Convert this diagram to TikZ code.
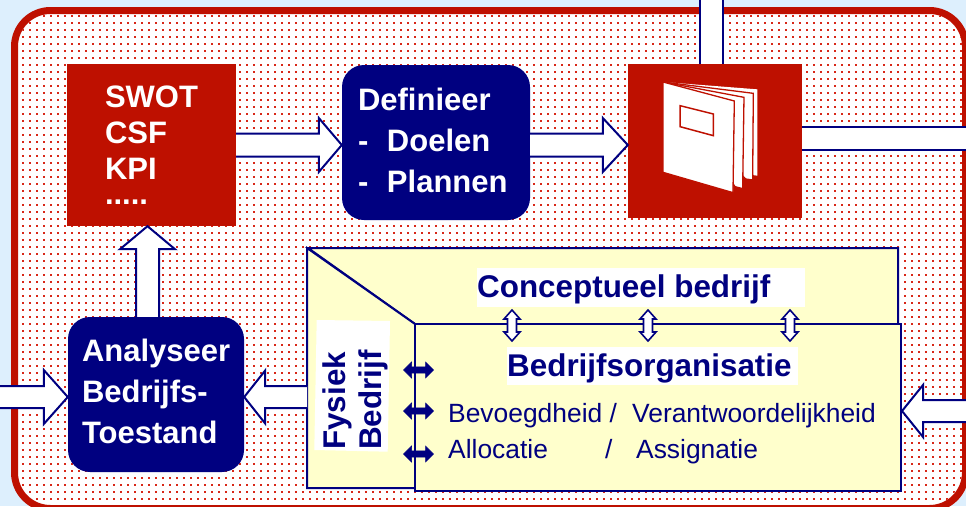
\documentclass[tikz,border=0pt]{standalone}
\usepackage{fontspec}
\setmainfont{Liberation Sans}
\usetikzlibrary{calc}
\definecolor{bgblue}{HTML}{DDEFFD}
\definecolor{brick}{HTML}{BE1000}
\definecolor{dotred}{HTML}{D82818}
\definecolor{navy}{HTML}{000080}
\definecolor{paleyel}{HTML}{FFFFCC}
\tikzset{
  redbox/.style={fill=brick,inner sep=0pt,text=white,align=left,font=\fontsize{31}{36}\selectfont\bfseries},
  navybox/.style={fill=navy,rounded corners=22pt,inner sep=0pt,text=white,align=left,font=\fontsize{31}{41}\selectfont\bfseries},
  headtext/.style={inner sep=0pt,anchor=base west,text=navy,font=\fontsize{31.4}{36}\selectfont\bfseries},
  bodytext/.style={inner sep=0pt,anchor=base west,text=navy,font=\fontsize{26.4}{30}\selectfont},
  yelline/.style={draw=navy,line width=2pt,fill=paleyel,line join=miter},
  arrowline/.style={draw=navy,line width=2pt,line join=miter},
  solidarrow/.style={fill=navy,draw=navy,line width=.5pt},
  openarrow/.style={fill=white,draw=navy,line width=1.6pt}
}
% fat open-tailed arrow: tail, tip, head length, head half width, shaft half width
\newcommand\fatarrow[5]{%
  \coordinate (fatT) at #1; \coordinate (fatP) at #2;
  \coordinate (fatC) at ($(fatP)!#3pt!(fatT)$);
  \fill[white] ($(fatT)!#5pt!90:(fatP)$) -- ($(fatC)!#5pt!90:(fatP)$) -- ($(fatC)!#4pt!90:(fatP)$) -- (fatP)
     -- ($(fatC)!#4pt!-90:(fatP)$) -- ($(fatC)!#5pt!-90:(fatP)$) -- ($(fatT)!#5pt!-90:(fatP)$) -- cycle;
  \draw[arrowline] ($(fatT)!#5pt!90:(fatP)$) -- ($(fatC)!#5pt!90:(fatP)$) -- ($(fatC)!#4pt!90:(fatP)$) -- (fatP)
     -- ($(fatC)!#4pt!-90:(fatP)$) -- ($(fatC)!#5pt!-90:(fatP)$) -- ($(fatT)!#5pt!-90:(fatP)$);
}
% double-headed arrow: style, end a, end b, head length, head half width, shaft half width
\newcommand\dblarrow[6]{%
  \coordinate (dA) at #2; \coordinate (dB) at #3;
  \coordinate (dCa) at ($(dA)!#4pt!(dB)$); \coordinate (dCb) at ($(dB)!#4pt!(dA)$);
  \path[#1] (dA) -- ($(dCa)!#5pt!90:(dA)$) -- ($(dCa)!#6pt!90:(dA)$) -- ($(dCb)!#6pt!-90:(dB)$) -- ($(dCb)!#5pt!-90:(dB)$)
     -- (dB) -- ($(dCb)!#5pt!90:(dB)$) -- ($(dCb)!#6pt!90:(dB)$) -- ($(dCa)!#6pt!-90:(dA)$) -- ($(dCa)!#5pt!-90:(dA)$) -- cycle;
}
\begin{document}
\begin{tikzpicture}[x=1pt,y=-1pt]
\useasboundingbox (0,0) rectangle (966,506);
\clip (0,0) rectangle (966,506);
\fill[bgblue] (0,0) rectangle (966,506);
% panel
\fill[white,rounded corners=36pt] (14.5,10.5) rectangle (965.5,508.5);
\begin{scope}
  \clip[rounded corners=33pt] (18,14) rectangle (962,505);
  \foreach \i in {0,...,135}{
    \pgfmathsetmacro\dx{22.7+7*\i}
    \foreach \j in {0,...,70}{
      \pgfmathsetmacro\dy{15.7+7*\j}
      \fill[dotred] (\dx-.85,\dy-.85) rectangle (\dx+.85,\dy+.85);
    }
  }
\end{scope}
\draw[brick,line width=7pt,rounded corners=36pt] (14.5,10.5) rectangle (965.5,508.5);

% yellow shapes
\path[yelline] (308,248) -- (898,248) -- (898,324) -- (415,324) -- cycle;
\path[yelline] (307,248) -- (415,324) -- (415,488) -- (307,488) -- cycle;
\node[yelline,rectangle,inner sep=0pt,minimum width=486pt,minimum height=167pt] (org) at (658,407.5) {};

% white patches
\fill[white] (477,268) rectangle (805,307);
\fill[white] (507,347) rectangle (798,385);
\fill[white] (316.7,320) -- (390,321) -- (387.7,451.7) -- (314.3,450) -- cycle;

% boxes
\node[redbox,minimum width=169pt,minimum height=162pt,text width=93pt] (swot) at (151.5,145)
  {SWOT\\CSF\\KPI\\[-11pt].....};
\node[navybox,minimum width=188pt,minimum height=155pt,text width=156pt,text depth=87pt] (def) at (436,142.5)
  {Definieer\\\makebox[29pt][l]{-}Doelen\\\makebox[29pt][l]{-}Plannen};
\node[redbox,minimum width=174pt,minimum height=154pt] (book) at (715,141) {};
\node[navybox,minimum width=176pt,minimum height=155pt,text width=148pt,text depth=88pt] (ana) at (156,394.5)
  {Analyseer\\Bedrijfs-\\Toestand};

% book icon
\begin{scope}[shift={(600pt,0pt)},x=.3333pt,y=-.3333pt]
  \fill[white] (189,246) -- (472,268) -- (472,527) -- (462,526) -- (300,400) -- cycle;
  \filldraw[fill=white,draw=brick,line width=1.3pt] (189,246) -- (460,280) -- (458,540) -- (437,537) -- (300,400) -- cycle;
  \filldraw[fill=white,draw=brick,line width=1.3pt] (189,246) -- (432,292) -- (428,566) -- (405,560) -- (300,400) -- cycle;
  \filldraw[fill=white,draw=brick,line width=1.3pt] (189,246) -- (403,303) -- (399,578) -- (189,517) -- cycle;
  \draw[brick,line width=1.5pt] (240,317) -- (340,342) -- (340,407) -- (240,380) -- cycle;
\end{scope}

% free ends
\coordinate (inL) at (0,397);
\coordinate (inR) at (966,411);
\coordinate (outT) at (711.5,0);
\coordinate (outR) at (966,138.5);
\coordinate (fysE) at (307,397);

% fat arrows
\fatarrow{(swot.east)}{(def.west |- swot.east)}{23}{27}{11.5}
\fatarrow{(def.east |- swot.east)}{(book.west |- swot.east)}{25}{27}{11.5}
\fatarrow{(ana.north -| 147.5,0)}{(147.5,0 |- swot.south)}{23}{27.5}{11.5}
\fatarrow{(inL)}{(ana.west |- inL)}{24}{27}{11}
\fatarrow{(fysE)}{(ana.east |- fysE)}{21}{26.5}{11}
\fatarrow{(inR)}{(org.east |- inR)}{21}{26}{11}
% plain bars
\fill[white] (700,0) rectangle (723,64);
\draw[arrowline] (book.north -| 700,0) -- (700,0) (book.north -| 723,0) -- (723,0);
\fill[white] (802,127) rectangle (966,150);
\draw[arrowline] (book.east |- 0,127) -- (966,127) (book.east |- 0,150) -- (966,150);

% texts
\node[headtext] (tConc) at (477,297) {Conceptueel bedrijf};
\node[headtext] (tOrg) at (507,376) {Bedrijfsorganisatie};
\node[headtext,rotate=90] (tFys) at (345,450) {Fysiek};
\node[headtext,rotate=90] (tBed) at (381,450) {Bedrijf};
\node[bodytext] (tBev) at (448,422) {\makebox[184pt][l]{Bevoegdheid /}Verantwoordelijkheid};
\node[bodytext] (tAll) at (448,458) {\makebox[157pt][l]{Allocatie}\makebox[31pt][l]{/}Assignatie};

% small double arrows
\dblarrow{openarrow}{(512,310)}{(512,341)}{9}{8}{4.5}
\dblarrow{openarrow}{(648,310)}{(648,341)}{9}{8}{4.5}
\dblarrow{openarrow}{(790,310)}{(790,341)}{9}{8}{4.5}
\dblarrow{solidarrow}{(403.5,370)}{(433.5,370)}{8}{8}{3.2}
\dblarrow{solidarrow}{(403.5,411)}{(433.5,411)}{8}{8}{3.2}
\dblarrow{solidarrow}{(403.5,454)}{(433.5,454)}{8}{8}{3.2}
\end{tikzpicture}
\end{document}
